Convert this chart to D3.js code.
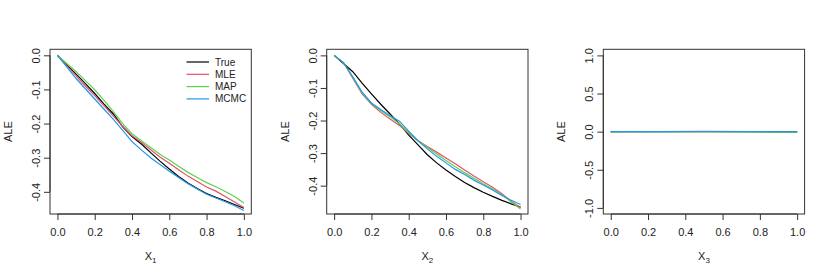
<!DOCTYPE html>
<html>
<head>
<meta charset="utf-8">
<script src="https://cdn.jsdelivr.net/npm/d3@7"></script>
<style>
  body { margin: 0; background: #fff; }
  svg { font-family: "Liberation Sans", Arial, sans-serif; }
</style>
</head>
<body>
<svg id="chart"></svg>
<script>
// grid of x values (same for panels 1 and 2)
var xGrid = [0, 0.05, 0.1, 0.15, 0.2, 0.25, 0.3, 0.35, 0.4, 0.45, 0.5, 0.55, 0.6, 0.65, 0.7, 0.75, 0.8, 0.85, 0.9, 0.95, 1.0]

// panel 1 (X1)
var x1True = [0, -0.028, -0.055, -0.083, -0.112, -0.143, -0.172, -0.21, -0.238, -0.26, -0.285, -0.31, -0.333, -0.355, -0.374, -0.39, -0.405, -0.416, -0.426, -0.437, -0.448]
var x1MLE  = [0, -0.03, -0.06, -0.09, -0.118, -0.148, -0.178, -0.208, -0.236, -0.255, -0.277, -0.298, -0.316, -0.335, -0.354, -0.37, -0.386, -0.398, -0.414, -0.43, -0.446]
var x1MAP  = [0, -0.024, -0.048, -0.074, -0.101, -0.132, -0.165, -0.2, -0.23, -0.25, -0.27, -0.29, -0.307, -0.325, -0.343, -0.358, -0.373, -0.385, -0.399, -0.414, -0.433]
var x1MCMC = [0, -0.034, -0.068, -0.098, -0.128, -0.158, -0.188, -0.22, -0.253, -0.277, -0.3, -0.32, -0.34, -0.358, -0.376, -0.392, -0.407, -0.418, -0.429, -0.441, -0.455]

// panel 2 (X2)
var x2True = [0, -0.025, -0.05, -0.085, -0.118, -0.15, -0.18, -0.21, -0.245, -0.275, -0.305, -0.33, -0.352, -0.372, -0.39, -0.406, -0.42, -0.433, -0.445, -0.456, -0.466]
var x2MLE  = [0, -0.022, -0.07, -0.118, -0.15, -0.175, -0.195, -0.215, -0.24, -0.262, -0.28, -0.297, -0.315, -0.333, -0.352, -0.37, -0.388, -0.405, -0.425, -0.448, -0.468]
var x2MAP  = [0, -0.022, -0.068, -0.115, -0.148, -0.17, -0.188, -0.21, -0.238, -0.262, -0.283, -0.303, -0.323, -0.342, -0.36, -0.377, -0.394, -0.41, -0.428, -0.45, -0.472]
var x2MCMC = [0, -0.022, -0.066, -0.113, -0.146, -0.166, -0.185, -0.202, -0.233, -0.262, -0.287, -0.31, -0.33, -0.35, -0.366, -0.383, -0.398, -0.413, -0.43, -0.445, -0.458]

// panel 3 (X3) - basically flat
var x3Grid = [0, 0.25, 0.5, 0.75, 1.0]
var x3True = [0, 0, 0, 0, 0]
var x3MLE  = [0, 0.002, 0.004, 0.002, -0.004]
var x3MAP  = [0, 0.001, 0.001, -0.004, -0.01]
var x3MCMC = [0, 0.001, 0.002, 0.001, -0.003]

var seriesNames = ["True", "MLE", "MAP", "MCMC"]
var seriesColors = ["#000000", "#DF536B", "#61D04F", "#2297E6"]

var xTicks = [0, 0.2, 0.4, 0.6, 0.8, 1.0]
var yTicks1 = [0, -0.1, -0.2, -0.3, -0.4]
var yTicks2 = [0, -0.1, -0.2, -0.3, -0.4]
var yTicks3 = [-1, -0.5, 0, 0.5, 1]

var panels = [
  { left: 50, sub: "1", grid: xGrid, series: [x1True, x1MLE, x1MAP, x1MCMC], ylim: [-0.465, 0.0176], yTicks: yTicks1, legend: true },
  { left: 326.7, sub: "2", grid: xGrid, series: [x2True, x2MLE, x2MAP, x2MCMC], ylim: [-0.487, 0.0187], yTicks: yTicks2, legend: false },
  { left: 603.3, sub: "3", grid: x3Grid, series: [x3True, x3MLE, x3MAP, x3MCMC], ylim: [-1.08, 1.08], yTicks: yTicks3, legend: false }
]

var dims = { width: 830, height: 277, top: 49.3, bottom: 214, boxWidth: 201.3 }

var svg = d3.select("#chart")
  .attr("width", dims.width)
  .attr("height", dims.height)

panels.forEach(function(p) {
  var x0 = p.left, x1 = p.left + dims.boxWidth

  var xScale = d3.scaleLinear()
    .domain([-0.04, 1.04])
    .range([x0, x1])

  var yScale = d3.scaleLinear()
    .domain(p.ylim)
    .range([dims.bottom, dims.top])

  var g = svg.append("g")

  // lines
  p.series.forEach(function(vals, i) {
    var pts = p.grid.map((x, j) => [x, vals[j]])
    g.append("path")
      .datum(pts)
      .attr("fill", "none")
      .attr("stroke", seriesColors[i])
      .attr("stroke-width", 1.2)
      .attr("d", d3.line()
        .x(d => xScale(d[0]))
        .y(d => yScale(d[1])))
  })

  // box
  g.append("rect")
    .attr("x", x0).attr("y", dims.top)
    .attr("width", x1 - x0).attr("height", dims.bottom - dims.top)
    .attr("fill", "none").attr("stroke", "#333").attr("stroke-width", 1)

  // x axis
  var xAxis = d3.axisBottom(xScale)
    .tickValues(xTicks).tickSize(6).tickSizeOuter(0).tickPadding(8)
    .tickFormat(d3.format(".1f"))
  var gx = g.append("g")
    .attr("transform", "translate(0," + dims.bottom + ")")
    .call(xAxis)
  gx.select(".domain").remove()
  gx.append("line")
    .attr("x1", xScale(xTicks[0])).attr("x2", xScale(xTicks[xTicks.length - 1]))
    .attr("stroke", "#333")
  gx.selectAll("line").attr("stroke", "#333")
  gx.selectAll("text").attr("fill", "#222").style("font-size", "11px")

  // y axis
  var yAxis = d3.axisLeft(yScale)
    .tickValues(p.yTicks).tickSize(6).tickSizeOuter(0)
    .tickFormat(d => d3.format(".1f")(d).replace("−", "-"))
  var gy = g.append("g")
    .attr("transform", "translate(" + x0 + ",0)")
    .call(yAxis)
  gy.select(".domain").remove()
  gy.append("line")
    .attr("y1", yScale(d3.min(p.yTicks))).attr("y2", yScale(d3.max(p.yTicks)))
    .attr("stroke", "#333")
  gy.selectAll("line").attr("stroke", "#333")
  gy.selectAll("text")
    .attr("x", 0).attr("dy", null)
    .attr("fill", "#222")
    .style("font-size", "11px")
    .attr("text-anchor", "middle")
    .attr("transform", "translate(-10,0) rotate(-90)")

  // axis titles
  var xt = g.append("text")
    .attr("x", (x0 + x1) / 2)
    .attr("y", 260)
    .attr("text-anchor", "middle")
    .style("font-size", "11px")
    .attr("fill", "#222")
  xt.append("tspan").text("X")
  xt.append("tspan").text(p.sub).attr("dy", 3).style("font-size", "8px")

  g.append("text")
    .attr("transform", "translate(" + (x0 - 38) + "," + ((dims.top + dims.bottom) / 2) + ") rotate(-90)")
    .attr("text-anchor", "middle")
    .style("font-size", "11px")
    .attr("fill", "#222")
    .text("ALE")

  // legend
  if (p.legend) {
    var lg = g.append("g")
    seriesNames.forEach(function(name, i) {
      var ly = 62 + i * 12.3
      lg.append("line")
        .attr("x1", x0 + 136.5).attr("x2", x0 + 159)
        .attr("y1", ly).attr("y2", ly)
        .attr("stroke", seriesColors[i]).attr("stroke-width", 1.2)
      lg.append("text")
        .attr("x", x0 + 165).attr("y", ly)
        .attr("dy", "0.35em")
        .style("font-size", "10px")
        .attr("fill", "#222")
        .text(name)
    })
  }
})
</script>
</body>
</html>
